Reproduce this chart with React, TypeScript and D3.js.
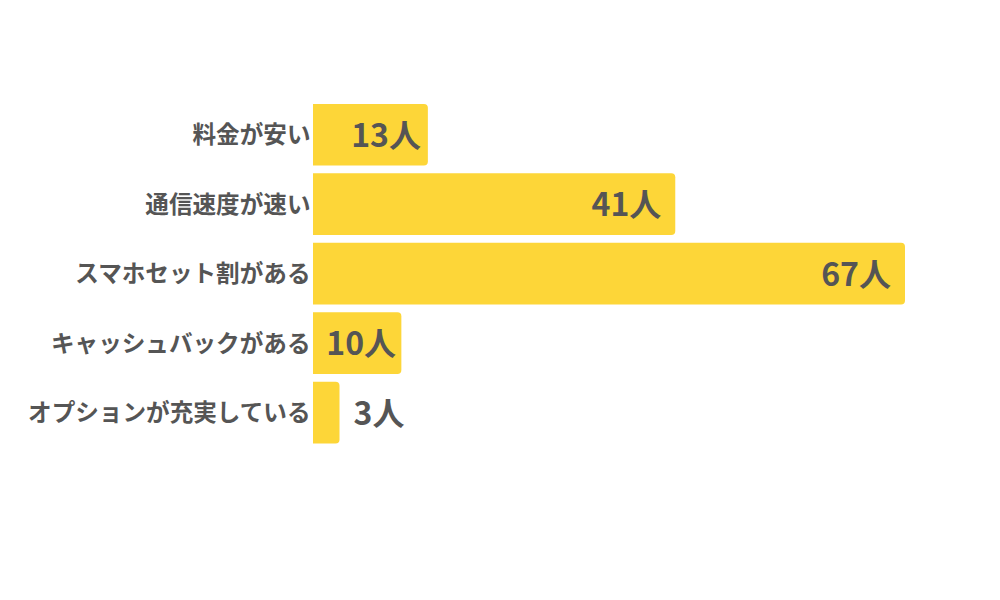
import React, { useRef, useEffect } from "react";
import * as d3 from "d3";

const categories = ["料金が安い", "通信速度が速い", "スマホセット割がある", "キャッシュバックがある", "オプションが充実している"];
const counts = [13, 41, 67, 10, 3];
const unit = "人";

const Chart: React.FC = () => {
  const ref = useRef<SVGSVGElement | null>(null);

  useEffect(() => {
    if (!ref.current) return;
    const svg = d3.select(ref.current);
    svg.selectAll("*").remove();

    const data = categories.map((c, i) => ({ c, v: counts[i] }));

    const x = d3.scaleLinear().domain([0, 67]).range([313, 905]);
    const y = d3.scaleBand<string>().domain(categories).range([100, 447.4]).paddingInner(0.112).paddingOuter(0.056);

    const font = "'Noto Sans CJK JP', 'Noto Sans', sans-serif";
    const r = 4;

    // bars, rounded on the right side only
    svg.append("g")
      .selectAll("path")
      .data(data)
      .enter()
      .append("path")
      .attr("fill", "#fdd638")
      .attr("d", (d) => {
        const x0 = x(0), x1 = x(d.v), y0 = y(d.c)!, h = y.bandwidth();
        return `M${x0},${y0}H${x1 - r}Q${x1},${y0} ${x1},${y0 + r}V${y0 + h - r}Q${x1},${y0 + h} ${x1 - r},${y0 + h}H${x0}Z`;
      });

    // category labels
    svg.append("g")
      .selectAll("text")
      .data(data)
      .enter()
      .append("text")
      .attr("x", 310.5)
      .attr("y", (d) => y(d.c)! + y.bandwidth() / 2)
      .attr("dy", "0.36em")
      .attr("text-anchor", "end")
      .style("font-family", font)
      .style("font-weight", 700)
      .style("font-size", "23.6px")
      .style("fill", "#555")
      .text((d) => d.c);

    // value labels
    svg.append("g")
      .selectAll("text")
      .data(data)
      .enter()
      .append("text")
      .attr("x", (d) => {
        const w = x(d.v) - x(0);
        if (w < 60) return x(d.v) + 14;
        return x(d.v) - Math.min(14, w * 0.06);
      })
      .attr("y", (d) => y(d.c)! + y.bandwidth() / 2)
      .attr("dy", "0.38em")
      .attr("text-anchor", (d) => (x(d.v) - x(0) < 60 ? "start" : "end"))
      .style("font-family", font)
      .style("font-weight", 700)
      .style("font-size", "32px")
      .style("fill", "#555")
      .text((d) => `${d.v}${unit}`);
  }, []);

  return <svg ref={ref} width={1000} height={600} style={{ position: "absolute", left: 0, top: 0, background: "#fff" }} />;
};

export default function App() {
  return <Chart />;
}
